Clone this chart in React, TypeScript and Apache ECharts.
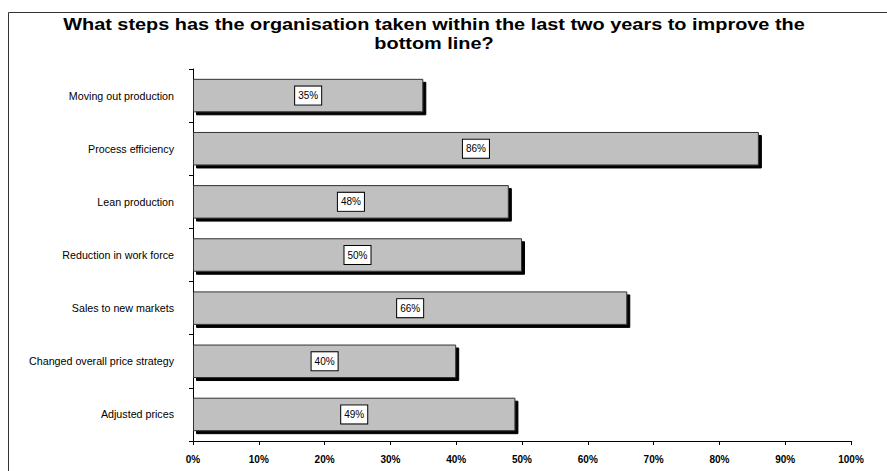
import React, { useEffect, useRef } from "react";
import * as echarts from "echarts";

const titleLines = [
  "What steps has the organisation taken within the last two years to improve the",
  "bottom line?",
];
const categories = [
  "Moving out production",
  "Process efficiency",
  "Lean production",
  "Reduction in work force",
  "Sales to new markets",
  "Changed overall price strategy",
  "Adjusted prices",
];
const values = [35, 86, 48, 50, 66, 40, 49];
const xTicks = { min: 0, max: 100, interval: 10 };

const FONT = "'Liberation Sans', Arial, sans-serif";

export default function App() {
  const ref = useRef<HTMLDivElement>(null);
  useEffect(() => {
    if (!ref.current) return;
    const chart = echarts.init(ref.current, undefined, { renderer: "svg" });
    chart.setOption({
      animation: false,
      backgroundColor: "#ffffff",
      graphic: [
        {
          type: "rect",
          shape: { x: 8.5, y: 12.5, width: 1000, height: 1000 },
          style: { fill: "none", stroke: "#333", lineWidth: 1 },
          silent: true,
          z: -1,
        },
        {
          type: "text",
          x: 434,
          y: 15,
          scaleX: 1.17,
          scaleY: 1,
          silent: true,
          style: {
            text: titleLines.join("\n"),
            x: 0,
            y: 0,
            align: "center",
            verticalAlign: "top",
            fontFamily: FONT,
            fontWeight: "bold",
            fontSize: 17,
            lineHeight: 19,
            fill: "#000",
          },
        },
      ],
      grid: { left: 193, right: 36, top: 69, bottom: 30, containLabel: false },
      xAxis: {
        type: "value",
        min: xTicks.min,
        max: xTicks.max,
        interval: xTicks.interval,
        splitLine: { show: false },
        axisLine: { show: true, lineStyle: { color: "#000", width: 1 } },
        axisTick: { show: true, length: 4, lineStyle: { color: "#000" } },
        axisLabel: {
          formatter: "{value}%",
          fontFamily: FONT,
          fontWeight: "bold",
          fontSize: 10,
          color: "#000",
          margin: 13,
        },
      },
      yAxis: {
        type: "category",
        data: categories,
        inverse: true,
        axisLine: { show: true, lineStyle: { color: "#000", width: 1 } },
        axisTick: { show: true, length: 4, alignWithLabel: false, lineStyle: { color: "#000" } },
        axisLabel: {
          fontFamily: FONT,
          fontSize: 10.7,
          color: "#000",
          margin: 19,
        },
      },
      series: [
        {
          type: "bar",
          data: values,
          barWidth: "63%",
          itemStyle: {
            color: "#c0c0c0",
            borderColor: "#333",
            borderWidth: 1,
            shadowColor: "#000",
            shadowOffsetX: 3,
            shadowOffsetY: 3,
            shadowBlur: 0,
          },
          label: {
            show: true,
            position: "inside",
            formatter: "{c}%",
            fontFamily: FONT,
            fontSize: 10,
            color: "#000",
            backgroundColor: "#fff",
            borderColor: "#000",
            borderWidth: 1,
            padding: [4, 3],
          },
        },
      ],
    });
    return () => chart.dispose();
  }, []);
  return (
    <div
      ref={ref}
      style={{ position: "fixed", left: 0, top: 0, width: 887, height: 471 }}
    />
  );
}
